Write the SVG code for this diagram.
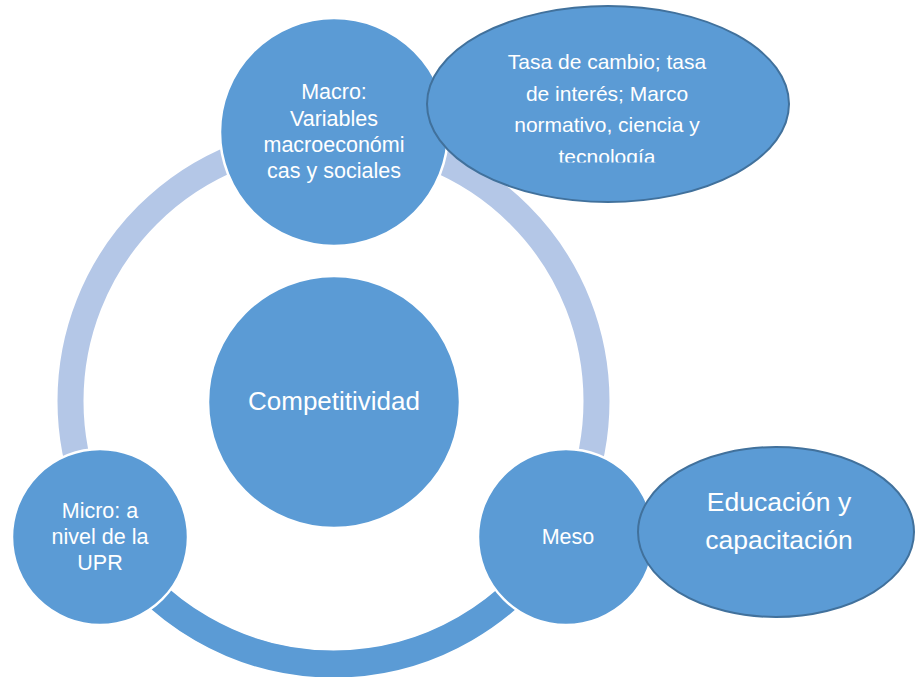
<svg xmlns="http://www.w3.org/2000/svg" width="915" height="677" viewBox="0 0 915 677">
<style>
.node{fill:#5b9bd5;stroke:#ffffff;stroke-width:2.5}
.oval{fill:#5b9bd5;stroke:#41719c;stroke-width:2}
.t{fill:#ffffff;font-family:"Liberation Sans",Arial,sans-serif;text-anchor:middle}
</style>
<defs>
<clipPath id="clipTop"><rect x="427" y="6" width="363" height="156.5"/></clipPath>
</defs>
<g id="connectors">
<circle cx="333.5" cy="401" r="263" fill="none" stroke="#b4c7e7" stroke-width="26"/>
<path d="M 105.7 532.5 A 263 263 0 0 0 561.3 532.5" fill="none" stroke="#5b9bd5" stroke-width="27"/>
</g>
<g id="center">
<circle class="node" cx="334" cy="402" r="126"/>
<text class="t" x="334" y="410" font-size="26">Competitividad</text>
</g>
<g id="macro">
<circle class="node" cx="334" cy="132" r="114"/>
<text class="t" font-size="21.5"><tspan x="334" y="99">Macro:</tspan><tspan x="334" y="126">Variables</tspan><tspan x="334" y="152">macroeconómi</tspan><tspan x="334" y="178">cas y sociales</tspan></text>
</g>
<g id="micro">
<circle class="node" cx="100" cy="537" r="88"/>
<text class="t" font-size="21.5"><tspan x="100" y="518">Micro: a</tspan><tspan x="100" y="544">nivel de la</tspan><tspan x="100" y="570">UPR</tspan></text>
</g>
<g id="meso">
<circle class="node" cx="566" cy="537" r="88"/>
<text class="t" x="568" y="544" font-size="21.5">Meso</text>
</g>
<g id="macro-detail">
<ellipse class="oval" cx="608" cy="104" rx="181" ry="98"/>
<text class="t" font-size="21" clip-path="url(#clipTop)"><tspan x="607" y="69">Tasa de cambio; tasa</tspan><tspan x="607" y="101">de interés; Marco</tspan><tspan x="607" y="132">normativo, ciencia y</tspan><tspan x="607" y="164">tecnología</tspan></text>
</g>
<g id="meso-detail">
<ellipse class="oval" cx="776" cy="532" rx="138" ry="85"/>
<text class="t" font-size="26.5"><tspan x="779" y="511">Educación y</tspan><tspan x="779" y="549">capacitación</tspan></text>
</g>
</svg>
